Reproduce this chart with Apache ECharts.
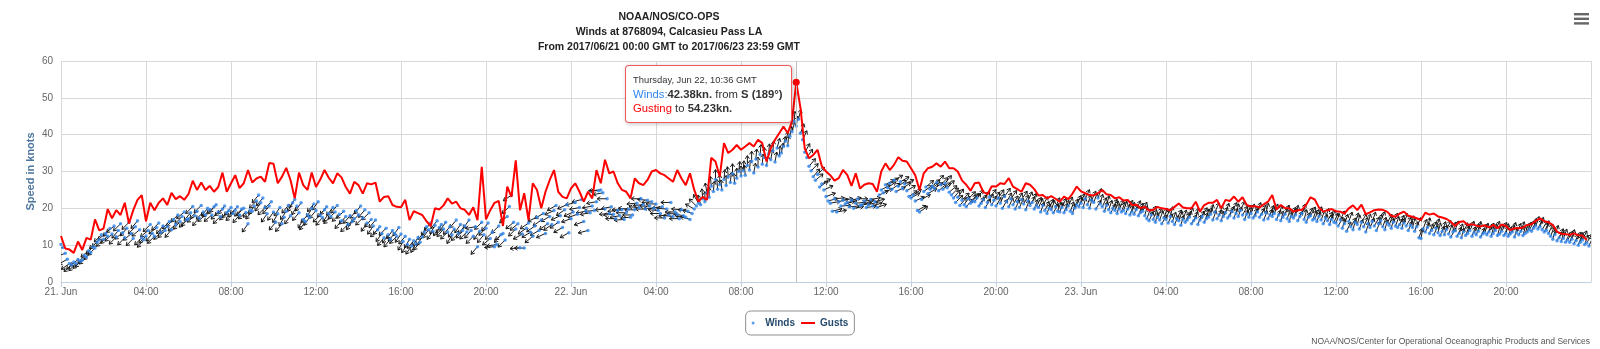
<!DOCTYPE html>
<html>
<head>
<meta charset="utf-8">
<title>Winds at 8768094, Calcasieu Pass LA</title>
<script src="https://cdn.jsdelivr.net/npm/echarts@6/dist/echarts.min.js"></script>
<style>
  html, body { margin: 0; padding: 0; background: #fff; }
  #chart { width: 1600px; height: 349px; }
</style>
</head>
<body>
<div id="chart"></div>
<script>
// Series start at 2017-06-21 00:00 GMT
const START_UTC = Date.UTC(2017, 5, 21, 0, 0);
const WIND_STEP_MIN = 6;   // winds: 10 readings per hour, one row per hour
const GUST_STEP_MIN = 12;  // gusts: 5 readings per hour, one row per hour

// Gust speed, knots
const gusts = [
  12.5, 9.1, 8.8, 7.9, 11.0,   8.7, 12.0, 11.5, 17.0, 14.0,   14.5, 19.8, 17.3, 19.5, 18.2,
  21.5, 15.9, 19.5, 22.3, 23.6,   16.5, 21.5, 19.5, 21.5, 22.7,   20.9, 24.2, 22.5, 23.3, 22.3,
  23.9, 27.5, 25.0, 27.0, 25.0,   26.1, 24.5, 25.8, 29.7, 24.5,   26.8, 29.0, 25.5, 26.8, 30.4,
  27.0, 28.1, 28.6, 27.2, 32.3,   32.1, 26.8, 28.6, 31.0, 27.7,   22.7, 29.7, 26.3, 25.0, 29.7,
  25.8, 27.8, 30.4, 28.3, 26.8,   29.5, 28.4, 25.8, 24.0, 27.2,   26.3, 24.0, 26.8, 26.5, 27.0,
  21.8, 23.1, 23.3, 20.9, 20.4,   20.3, 22.3, 16.8, 19.2, 18.7,   18.2, 16.5, 15.2, 20.0, 19.7,
  20.8, 22.7, 21.3, 21.8, 20.0,   19.6, 18.2, 20.3, 16.8, 31.3,   17.0, 19.5, 21.5, 22.0, 15.2,
  25.9, 23.1, 33.0, 19.5, 24.1,   16.8, 26.8, 25.0, 20.0, 24.5,   27.7, 30.4, 24.5, 23.1, 22.7,
  25.4, 26.8, 24.5, 21.8, 24.5,   22.7, 30.4, 26.8, 33.2, 29.5,   30.0, 26.8, 25.0, 24.5, 22.7,
  28.1, 26.8, 26.3, 27.7, 30.0,   30.4, 29.5, 29.0, 28.1, 27.2,   30.4, 28.1, 26.3, 29.5, 25.0,
  21.8, 23.1, 22.3, 33.7, 32.7,   28.6, 37.7, 35.0, 35.9, 37.2,   35.9, 36.8, 37.7, 36.8, 38.6,
  37.7, 32.7, 36.3, 38.6, 40.4,   42.2, 40.4, 43.6, 54.23, 47.2,  36.3, 33.6, 34.5, 35.9, 31.5,
  30.0, 29.0, 27.5, 28.2, 30.4,   29.1, 26.1, 29.5, 25.4, 26.4,   26.8, 26.6, 24.5, 30.0, 32.2,
  30.4, 31.8, 33.9, 32.9, 32.7,   30.9, 29.0, 25.0, 29.5, 30.9,   31.3, 32.2, 31.3, 32.7, 30.9,
  30.9, 30.0, 27.6, 26.4, 24.8,   26.8, 27.0, 24.5, 23.8, 26.0,   25.9, 26.8, 26.6, 28.2, 25.9,
  25.2, 24.5, 26.8, 26.4, 25.2,   23.5, 23.6, 22.7, 23.3, 22.6,   21.8, 23.2, 22.5, 24.0, 25.9,
  24.6, 24.1, 23.6, 23.5, 24.1,   25.0, 23.8, 23.6, 22.7, 23.0,   22.1, 22.3, 20.9, 21.0, 20.1,
  20.4, 19.4, 19.6, 20.4, 20.0,   19.8, 19.5, 20.4, 21.3, 20.2,   20.0, 20.0, 21.8, 19.1, 20.9,
  21.5, 21.5, 22.3, 20.0, 22.3,   22.0, 23.2, 21.8, 23.0, 20.9,   20.5, 20.6, 20.2, 21.1, 21.8,
  23.6, 19.7, 20.9, 20.1, 20.0,   19.1, 19.5, 19.6, 21.0, 23.0,   22.4, 20.2, 19.1, 19.5, 19.8,
  19.2, 19.1, 18.6, 20.0, 20.8,   19.5, 21.0, 18.4, 18.9, 19.5,   19.7, 19.6, 19.1, 18.0, 17.7,
  18.6, 19.1, 18.0, 17.7, 17.3,   16.8, 18.8, 18.3, 18.6, 17.8,   17.5, 17.1, 16.4, 15.2, 16.3,
  16.5, 15.5, 15.7, 15.3, 15.1,   15.4, 14.8, 15.5, 14.6, 15.6,   15.2, 14.1, 14.6, 14.6, 14.8,
  15.5, 15.7, 16.6, 17.3, 16.5,   16.2, 15.5, 13.7, 13.1, 13.0,   12.8, 13.2, 12.7, 12.6, 11.4
];

// Sustained wind speed, knots
const winds = [
  10.2, 9.4, 7.8, 6.2, 5.0, 4.6, 5.4, 5.0, 6.1, 5.6,
  6.0, 7.2, 6.8, 8.5, 8.0, 9.6, 9.2, 10.8, 11.5, 12.8,
  11.6, 13.2, 12.4, 14.5, 13.0, 15.2, 12.2, 14.0, 15.8, 13.4,
  12.0, 14.6, 16.2, 13.1, 11.8, 15.0, 16.6, 14.2, 12.0, 11.5,
  12.5, 14.0, 15.6, 13.2, 12.4, 14.8, 16.0, 13.5, 15.2, 14.0,
  15.0, 16.4, 14.2, 17.0, 15.6, 18.2, 16.4, 17.8, 19.0, 16.8,
  17.2, 18.8, 20.5, 18.0, 19.2, 17.4, 20.8, 19.0, 18.2, 20.0,
  19.6, 18.2, 20.4, 21.0, 19.0, 17.8, 19.8, 20.6, 18.8, 19.4,
  20.2, 18.6, 19.5, 20.4, 18.2, 19.8, 20.0, 18.9, 15.8, 19.5,
  19.2, 20.6, 22.0, 23.6, 21.5, 22.8, 20.2, 18.5, 20.6, 21.8,
  19.0, 16.2, 18.5, 20.2, 15.8, 17.6, 19.2, 20.8, 18.0, 21.5,
  22.4, 20.6, 18.8, 21.5, 17.0, 16.4, 18.2, 17.6, 20.0, 21.2,
  19.4, 21.8, 18.2, 17.5, 19.6, 20.4, 18.6, 17.8, 20.2, 19.0,
  20.8, 18.4, 16.6, 19.2, 17.8, 15.6, 18.0, 16.4, 17.2, 19.4,
  18.2, 20.6, 17.4, 19.6, 16.0, 18.8, 17.0, 15.2, 16.8, 14.2,
  15.0, 13.2, 12.0, 14.6, 12.8, 11.6, 14.0, 13.2, 12.4, 14.8,
  13.0, 11.0, 12.4, 10.2, 11.6, 9.8, 11.2, 10.4, 12.0, 10.8,
  12.2, 13.6, 15.0, 14.2, 16.0, 13.8, 15.4, 16.6, 14.8, 15.6,
  14.4, 16.2, 13.6, 15.0, 12.8, 14.4, 16.8, 13.2, 15.6, 14.0,
  15.2, 13.6, 16.8, 14.0, 12.4, 15.0, 9.6, 13.8, 16.2, 12.8,
  14.6, 16.0, 11.8, 13.5, 9.6, 10.2, 15.2, 12.8, 13.2, 11.4,
  17.8, 20.5, 23.6, 16.2, 14.4, 15.8, 9.3, 13.0, 9.2, 14.6,
  16.0, 13.5, 12.4, 15.2, 17.6, 14.0, 16.8, 18.6, 13.2, 15.8,
  17.8, 15.6, 19.4, 20.8, 16.2, 18.0, 14.8, 19.6, 21.0, 13.4,
  17.2, 19.0, 21.6, 18.4, 20.2, 22.4, 16.4, 19.2, 14.0, 18.8,
  20.6, 19.4, 21.8, 24.8, 25.0, 24.2, 19.8, 22.6, 18.6, 20.4,
  18.4, 17.2, 19.4, 18.0, 19.6, 17.0, 18.8, 19.8, 17.6, 18.2,
  19.6, 21.4, 20.2, 22.6, 21.0, 19.8, 22.2, 20.6, 21.8, 20.0,
  21.2, 19.4, 18.6, 20.4, 17.4, 19.8, 18.2, 21.6, 17.8, 19.0,
  18.4, 17.2, 19.6, 18.0, 17.6, 19.2, 17.0, 18.6, 19.8, 20.6,
  21.4, 21.0, 22.6, 21.8, 24.2, 23.0, 26.0, 24.6, 27.8, 25.2,
  26.4, 25.0, 27.8, 26.2, 28.6, 27.0, 29.4, 26.8, 28.2, 30.0,
  28.8, 30.2, 29.0, 31.6, 30.4, 32.8, 29.6, 33.4, 31.2, 34.6,
  32.0, 33.8, 31.6, 34.8, 33.2, 35.6, 32.6, 36.4, 34.2, 35.0,
  36.8, 38.2, 37.0, 39.6, 40.8, 43.6, 42.38, 44.2, 40.4, 38.6,
  35.2, 33.8, 31.4, 30.2, 28.6, 27.6, 29.2, 25.8, 26.6, 25.0,
  23.2, 22.0, 21.4, 19.2, 22.6, 19.0, 21.8, 20.6, 22.2, 21.2,
  21.6, 20.4, 22.2, 20.0, 21.4, 22.6, 20.8, 21.0, 22.0, 20.2,
  21.0, 22.4, 20.6, 21.8, 20.2, 23.6, 25.0, 24.2, 26.4, 25.6,
  26.8, 25.2, 27.6, 24.6, 26.0, 27.2, 25.4, 26.6, 24.8, 23.2,
  22.8, 23.6, 22.0, 19.4, 19.0, 22.4, 24.6, 25.8, 24.0, 25.2,
  26.0, 25.4, 27.0, 24.8, 26.4, 25.2, 26.8, 25.6, 24.4, 23.6,
  22.8, 21.6, 23.0, 20.8, 22.2, 21.0, 20.4, 22.6, 21.4, 22.0,
  21.8, 22.8, 20.6, 21.4, 22.4, 20.2, 21.6, 23.0, 21.0, 22.2,
  20.6, 22.8, 21.4, 20.0, 23.2, 21.8, 20.4, 22.6, 21.0, 19.8,
  21.8, 20.2, 22.4, 21.2, 19.6, 22.0, 20.8, 21.6, 19.8, 20.6,
  20.2, 19.0, 20.8, 19.4, 18.6, 20.0, 19.6, 18.8, 20.4, 19.2,
  19.0, 20.2, 18.8, 19.6, 20.6, 19.2, 18.6, 20.0, 21.0, 20.4,
  21.4, 20.2, 22.6, 21.0, 20.0, 22.2, 21.6, 19.8, 22.8, 21.2,
  20.4, 19.2, 20.8, 19.6, 18.8, 20.0, 19.4, 18.6, 19.8, 19.0,
  19.4, 18.6, 19.8, 18.2, 19.0, 18.4, 19.6, 18.0, 18.8, 19.2,
  18.0, 17.2, 16.6, 18.2, 17.0, 16.2, 17.6, 16.8, 15.8, 17.4,
  17.0, 16.0, 17.8, 16.4, 15.6, 17.2, 16.6, 15.4, 17.0, 16.2,
  16.8, 17.6, 15.8, 16.6, 17.4, 15.6, 16.8, 17.8, 16.2, 17.2,
  17.6, 18.4, 16.8, 19.0, 17.2, 18.2, 16.6, 17.8, 18.8, 17.4,
  18.0, 19.2, 17.4, 18.6, 17.8, 19.4, 18.2, 17.0, 18.4, 17.6,
  18.6, 17.4, 18.0, 19.0, 17.6, 18.4, 16.8, 18.8, 17.2, 18.2,
  17.8, 18.6, 17.0, 18.2, 16.6, 17.6, 18.4, 17.2, 16.4, 17.8,
  17.4, 18.2, 16.6, 17.8, 18.6, 17.0, 16.2, 17.6, 18.0, 16.8,
  17.2, 16.4, 17.8, 16.8, 15.8, 17.4, 16.6, 15.6, 17.0, 16.2,
  16.0, 15.2, 16.8, 14.6, 15.8, 13.8, 16.4, 15.0, 14.2, 16.2,
  15.6, 14.4, 16.2, 15.0, 13.6, 15.8, 14.8, 16.4, 15.2, 14.0,
  15.8, 16.6, 15.0, 14.2, 16.0, 15.4, 14.6, 16.2, 15.2, 14.8,
  15.6, 14.6, 16.0, 15.2, 14.0, 15.4, 14.8, 13.8, 15.0, 12.0,
  11.8, 14.4, 13.6, 14.8, 13.2, 14.0, 12.8, 14.6, 13.4, 12.6,
  13.8, 12.8, 14.2, 13.0, 12.2, 13.6, 14.0, 12.4, 13.2, 12.0,
  13.6, 12.6, 13.2, 14.0, 12.4, 13.4, 12.8, 13.8, 12.2, 13.0,
  13.4, 12.8, 13.6, 12.4, 13.2, 14.0, 12.6, 13.0, 13.8, 12.6,
  13.2, 12.4, 13.0, 13.6, 12.2, 13.4, 12.8, 13.8, 12.6, 13.2,
  13.6, 14.2, 13.8, 14.6, 15.2, 14.4, 15.0, 14.2, 13.6, 14.0,
  13.2, 12.4, 11.6, 12.8, 11.2, 12.0, 11.0, 11.8, 10.8, 11.4,
  10.8, 11.6, 10.4, 11.2, 10.0, 10.8, 11.4, 10.2, 10.6, 9.8
];

// Direction the wind blows from, degrees true (same timing as winds)
const directions = [
  80, 75, 70, 60, 55, 50, 45, 45, 50, 45,
  45, 40, 45, 50, 45, 40, 45, 50, 45, 45,
  45, 50, 45, 40, 45, 50, 45, 40, 45, 50,
  45, 40, 45, 50, 45, 45, 40, 50, 45, 40,
  45, 50, 45, 40, 45, 50, 45, 45, 40, 45,
  50, 45, 40, 45, 50, 45, 40, 45, 50, 45,
  45, 40, 45, 50, 45, 40, 45, 45, 50, 40,
  45, 50, 45, 40, 45, 45, 50, 40, 45, 45,
  40, 45, 50, 45, 40, 45, 45, 50, 35, 45,
  40, 35, 45, 40, 35, 40, 45, 35, 40, 45,
  35, 40, 30, 35, 40, 30, 35, 40, 35, 30,
  35, 30, 40, 35, 30, 35, 40, 35, 30, 40,
  40, 35, 45, 40, 45, 40, 35, 45, 40, 45,
  40, 45, 40, 45, 40, 45, 40, 35, 45, 40,
  45, 40, 45, 40, 35, 45, 40, 35, 40, 45,
  40, 35, 40, 45, 35, 40, 35, 40, 45, 35,
  35, 30, 40, 35, 30, 35, 40, 30, 35, 40,
  35, 40, 30, 35, 40, 35, 30, 40, 35, 30,
  40, 35, 45, 40, 30, 35, 40, 45, 35, 40,
  40, 45, 35, 40, 45, 80, 40, 35, 45, 40,
  45, 40, 50, 45, 85, 80, 45, 40, 50, 45,
  50, 45, 55, 50, 45, 50, 85, 60, 90, 55,
  55, 60, 50, 55, 65, 60, 55, 60, 65, 55,
  60, 55, 65, 60, 55, 65, 60, 55, 65, 60,
  70, 65, 75, 70, 80, 75, 70, 80, 75, 80,
  80, 85, 80, 90, 85, 80, 85, 90, 85, 80,
  85, 90, 85, 80, 90, 85, 90, 95, 85, 90,
  90, 85, 95, 90, 85, 90, 95, 90, 85, 90,
  90, 95, 90, 85, 90, 95, 85, 90, 95, 90,
  95, 90, 95, 100, 95, 100, 105, 110, 120, 135,
  150, 165, 175, 180, 170, 180, 175, 185, 180, 175,
  180, 175, 185, 180, 175, 185, 180, 175, 180, 185,
  180, 185, 175, 180, 185, 180, 190, 185, 180, 185,
  185, 180, 190, 185, 190, 185, 190, 195, 185, 190,
  190, 195, 185, 190, 195, 185, 189, 195, 200, 205,
  210, 215, 220, 225, 220, 230, 225, 235, 240, 245,
  250, 255, 260, 255, 265, 260, 255, 265, 260, 255,
  260, 265, 255, 260, 265, 270, 260, 255, 265, 260,
  255, 260, 250, 255, 250, 245, 240, 245, 240, 235,
  240, 235, 240, 245, 235, 240, 235, 245, 240, 235,
  240, 235, 245, 240, 235, 240, 235, 230, 240, 235,
  230, 235, 225, 230, 225, 230, 220, 225, 230, 225,
  220, 225, 215, 220, 225, 215, 220, 225, 215, 220,
  215, 220, 210, 215, 220, 210, 215, 220, 210, 215,
  210, 215, 205, 210, 215, 210, 205, 215, 210, 205,
  210, 205, 215, 210, 200, 205, 210, 205, 200, 210,
  205, 200, 210, 205, 200, 205, 200, 210, 205, 200,
  200, 205, 200, 195, 205, 200, 195, 200, 205, 200,
  200, 195, 205, 200, 195, 205, 200, 210, 200, 195,
  205, 200, 195, 200, 210, 205, 200, 195, 205, 200,
  200, 205, 210, 200, 195, 200, 205, 200, 195, 205,
  195, 200, 205, 210, 200, 195, 205, 200, 210, 200,
  200, 205, 195, 200, 205, 210, 200, 195, 200, 205,
  205, 200, 210, 205, 195, 200, 205, 210, 200, 195,
  200, 195, 200, 205, 210, 200, 195, 205, 200, 210,
  205, 210, 200, 195, 200, 205, 210, 200, 205, 195,
  200, 205, 195, 200, 210, 205, 200, 195, 205, 200,
  195, 200, 205, 200, 195, 210, 205, 200, 195, 205,
  200, 195, 205, 210, 200, 195, 200, 205, 210, 200,
  205, 200, 195, 200, 205, 200, 210, 195, 200, 205,
  200, 210, 205, 195, 200, 205, 200, 210, 195, 200,
  195, 200, 210, 205, 200, 195, 205, 200, 210, 205,
  200, 205, 200, 195, 210, 200, 195, 205, 200, 210,
  205, 195, 200, 210, 205, 200, 195, 200, 205, 200,
  190, 200, 205, 195, 200, 210, 205, 200, 195, 205,
  200, 195, 205, 200, 210, 195, 200, 205, 200, 195,
  205, 200, 195, 205, 200, 210, 200, 195, 205, 200,
  200, 205, 210, 195, 200, 205, 195, 200, 210, 205,
  195, 200, 205, 200, 195, 205, 210, 200, 195, 200,
  200, 210, 205, 195, 200, 205, 200, 210, 205, 195,
  205, 200, 195, 200, 210, 205, 195, 200, 205, 210,
  200, 195, 205, 210, 200, 195, 205, 200, 210, 205
];

// X axis runs in hours from 2017/06/21 00:00 GMT, labelled every 4 hours
const xTickLabels = [
  '21. Jun', '04:00', '08:00', '12:00', '16:00', '20:00',
  '22. Jun', '04:00', '08:00', '12:00', '16:00', '20:00',
  '23. Jun', '04:00', '08:00', '12:00', '16:00', '20:00', ''
];
const yTicks = [0, 10, 20, 30, 40, 50, 60];

// Time pinned in the tooltip: Jun 22, 10:36 GMT, in minutes from the start
const PINNED_MINUTES = 34 * 60 + 36;
const PINNED_WIND = PINNED_MINUTES / WIND_STEP_MIN;
const PINNED_GUST = PINNED_MINUTES / GUST_STEP_MIN;

const COMPASS = ['N','NNE','NE','ENE','E','ESE','SE','SSE','S','SSW','SW','WSW','W','WNW','NW','NNW'];
const DAYS = ['Sunday','Monday','Tuesday','Wednesday','Thursday','Friday','Saturday'];
const MONTHS = ['Jan','Feb','Mar','Apr','May','Jun','Jul','Aug','Sep','Oct','Nov','Dec'];

const windHour = i => i * WIND_STEP_MIN / 60;
const gustHour = i => i * GUST_STEP_MIN / 60;
const pad2 = n => (n < 10 ? '0' : '') + n;

const windPoints = winds.map((v, i) => [windHour(i), v]);
const arrowPoints = winds.map((v, i) => [windHour(i), v, directions[i]]);
const gustPoints = gusts.map((v, i) => [gustHour(i), v]);

const FONT = '"Liberation Sans", Arial, sans-serif';
const WIND_BLUE = '#2f86ec';

function tooltipHtml(i) {
  const minutes = i * WIND_STEP_MIN;
  const g = Math.round(minutes / GUST_STEP_MIN);
  const d = new Date(START_UTC + minutes * 60000);
  const head = DAYS[d.getUTCDay()] + ', ' + MONTHS[d.getUTCMonth()] + ' ' + d.getUTCDate() + ', ' +
               pad2(d.getUTCHours()) + ':' + pad2(d.getUTCMinutes()) + ' GMT';
  const dir = directions[i];
  const card = COMPASS[Math.round(dir / 22.5) % 16];
  return '<div style="font-family:' + FONT.replace(/"/g, "'") + ';color:#333">' +
    '<div style="font-size:9.4px;line-height:14px">' + head + '</div>' +
    '<div style="font-size:11.3px;line-height:14px"><span style="color:' + WIND_BLUE + '">Winds:</span>' +
    '<b>' + winds[i].toFixed(2) + 'kn.</b> from <b>' + card + ' (' + dir + '°)</b></div>' +
    '<div style="font-size:11.3px;line-height:14px"><span style="color:#ff0000">Gusting</span> to ' +
    '<b>' + gusts[g].toFixed(2) + 'kn.</b></div></div>';
}

// Wind direction arrow: starts at the observation and points downwind
function renderArrow(params, api) {
  const p = api.coord([api.value(0), api.value(1)]);
  const toward = (api.value(2) + 180) * Math.PI / 180;
  const dx = Math.sin(toward), dy = -Math.cos(toward);
  const len = 10, head = 3.2, half = 2.1;
  const ex = p[0] + dx * len, ey = p[1] + dy * len;
  const bx = ex - dx * head, by = ey - dy * head;
  const nx = -dy, ny = dx;
  return {
    type: 'group',
    children: [
      { type: 'line', shape: { x1: p[0], y1: p[1], x2: ex, y2: ey },
        style: { stroke: '#1a1a1a', lineWidth: 1 } },
      { type: 'polyline', shape: { points: [[bx + nx * half, by + ny * half], [ex, ey], [bx - nx * half, by - ny * half]] },
        style: { stroke: '#1a1a1a', lineWidth: 1, fill: null } }
    ]
  };
}

const chart = echarts.init(document.getElementById('chart'), null, { renderer: 'canvas' });

chart.setOption({
  animation: false,
  backgroundColor: '#fff',
  textStyle: { fontFamily: FONT },
  title: {
    text: 'NOAA/NOS/CO-OPS\nWinds at 8768094, Calcasieu Pass LA\nFrom 2017/06/21 00:00 GMT to 2017/06/23 23:59 GMT',
    left: 'center',
    top: 10,
    padding: 0,
    textAlign: 'center',
    textStyle: { fontFamily: FONT, fontSize: 10.5, fontWeight: 'bold', color: '#222', lineHeight: 15 }
  },
  grid: { left: 61, right: 9, top: 61, bottom: 67, containLabel: false },
  legend: {
    data: [
      { name: 'Winds', icon: 'circle' },
      { name: 'Gusts', icon: 'path://M0,0h14v2h-14z' }
    ],
    left: 'center',
    top: 311,
    padding: [7, 6],
    itemGap: 6,
    itemWidth: 14,
    itemHeight: 3,
    borderColor: '#909090',
    borderWidth: 1,
    borderRadius: 5,
    textStyle: { fontFamily: FONT, fontSize: 10, fontWeight: 'bold', color: '#274b6d' }
  },
  tooltip: {
    trigger: 'item',
    triggerOn: 'none',
    alwaysShowContent: true,
    transitionDuration: 0,
    position: [625, 65],
    backgroundColor: 'rgba(255,255,255,0.96)',
    borderColor: 'rgba(240,60,60,0.85)',
    borderWidth: 1.5,
    borderRadius: 4,
    padding: [7, 8, 7, 7],
    extraCssText: 'box-shadow: 1px 1px 4px rgba(0,0,0,0.25);',
    formatter: params => tooltipHtml(params.dataIndex)
  },
  xAxis: {
    type: 'value',
    min: 0,
    max: 72,
    interval: 4,
    axisLine: { show: true, lineStyle: { color: '#c0d0e0', width: 1 } },
    axisTick: { show: true, length: 5, lineStyle: { color: '#c0d0e0' } },
    axisLabel: {
      margin: 5,
      fontFamily: FONT,
      fontSize: 10,
      color: '#666',
      showMaxLabel: false,
      formatter: v => xTickLabels[Math.round(v / 4)]
    },
    splitLine: { show: true, lineStyle: { color: '#d8d8d8', width: 1 } }
  },
  yAxis: {
    type: 'value',
    min: yTicks[0],
    max: yTicks[yTicks.length - 1],
    interval: yTicks[1] - yTicks[0],
    name: 'Speed in knots',
    nameLocation: 'middle',
    nameGap: 25,
    nameMoveOverlap: false,
    nameRotate: 90,
    nameTextStyle: { fontFamily: FONT, fontSize: 11, fontWeight: 'bold', color: '#4d759e' },
    axisLine: { show: false },
    axisTick: { show: false },
    axisLabel: { margin: 8, fontFamily: FONT, fontSize: 10, color: '#666' },
    splitLine: { show: true, lineStyle: { color: '#d8d8d8', width: 1 } }
  },
  series: [
    {
      name: 'Direction',
      type: 'custom',
      renderItem: renderArrow,
      data: arrowPoints,
      clip: true,
      silent: true,
      tooltip: { show: false },
      z: 2
    },
    {
      name: 'Winds',
      type: 'scatter',
      data: windPoints,
      symbol: 'circle',
      symbolSize: 3.5,
      itemStyle: { color: WIND_BLUE },
      emphasis: { disabled: true },
      z: 3
    },
    {
      name: 'Gusts',
      type: 'line',
      data: gustPoints,
      showSymbol: false,
      symbol: 'circle',
      lineStyle: { color: '#ff0000', width: 2 },
      itemStyle: { color: '#ff0000' },
      emphasis: { disabled: true },
      z: 4,
      markLine: {
        silent: true,
        symbol: ['none', 'none'],
        label: { show: false },
        lineStyle: { color: '#c0c0c0', width: 1, type: 'solid' },
        data: [{ xAxis: gustHour(PINNED_GUST) }]
      },
      markPoint: {
        silent: true,
        symbol: 'circle',
        symbolSize: 7,
        label: { show: false },
        itemStyle: { color: '#ff0000' },
        data: [{ coord: [gustHour(PINNED_GUST), gusts[PINNED_GUST]] }]
      }
    }
  ],
  graphic: [
    // export menu glyph
    { type: 'rect', right: 11, top: 13, shape: { width: 15, height: 2.4 }, style: { fill: '#666' } },
    { type: 'rect', right: 11, top: 17.6, shape: { width: 15, height: 2.4 }, style: { fill: '#666' } },
    { type: 'rect', right: 11, top: 22.2, shape: { width: 15, height: 2.4 }, style: { fill: '#666' } },
    {
      type: 'text',
      right: 10,
      top: 337,
      style: {
        text: 'NOAA/NOS/Center for Operational Oceanographic Products and Services',
        font: '8.5px "Liberation Sans", Arial, sans-serif',
        fill: '#555'
      }
    }
  ]
});

// Pin the tooltip on the peak-gust time (scatter items carry graphic elements)
function pinTooltip() {
  chart.dispatchAction({ type: 'showTip', seriesIndex: 1, dataIndex: PINNED_WIND });
}
pinTooltip();
chart.on('finished', pinTooltip);
</script>
</body>
</html>
